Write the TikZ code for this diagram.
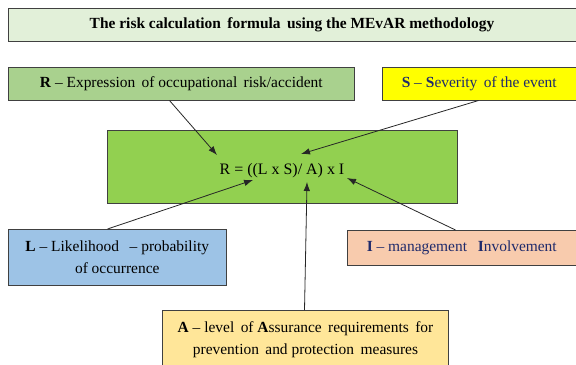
\documentclass[tikz,border=0pt]{standalone}
\usepackage{fontspec}
\setmainfont{Liberation Serif}
\usetikzlibrary{arrows.meta}
\definecolor{titlefill}{HTML}{E2F0D9}
\definecolor{rfill}{HTML}{A9D18E}
\definecolor{sfill}{HTML}{FFFF00}
\definecolor{cfill}{HTML}{92D050}
\definecolor{lfill}{HTML}{9DC3E6}
\definecolor{ifill}{HTML}{F8CBAD}
\definecolor{afill}{HTML}{FFE699}
\definecolor{navy}{HTML}{1F2A6B}
\definecolor{edge}{HTML}{404040}
\tikzset{
  box/.style={draw=edge, line width=1bp, anchor=north west, inner sep=0pt, align=center,
    font=\fontsize{15.5}{22}\selectfont},
  arr/.style={draw=black!85, line width=0.8bp, -{Latex[length=9bp,width=6.5bp]}}
}
\begin{document}
\begin{tikzpicture}[x=1bp,y=-1bp]
\useasboundingbox (0,0) rectangle (576,364);
\node[box, fill=titlefill, minimum width=568bp, minimum height=33bp, font=\bfseries\fontsize{15.5}{18}\selectfont] (title) at (7.5,7.5)
  {The risk calculation\, formula\, using the MEvAR methodology};
\node[box, fill=rfill, minimum width=346.5bp, minimum height=32.5bp] (R) at (7.5,67)
  {\textbf{R} – Expression\, of occupational\, risk/accident};
\node[box, fill=sfill, minimum width=193.5bp, minimum height=32.5bp, text=navy] (S) at (382,67)
  {\textbf{S} – \textbf{S}everity\, of the event};
\node[box, fill=cfill, minimum width=350bp, minimum height=73bp] (C) at (107,130) {};
\node[font=\fontsize{16}{18}\selectfont] (f) at (282,171) {R = ((L x S)/ A) x I};
\node[box, fill=lfill, minimum width=218.5bp, minimum height=56bp] (L) at (7.5,229)
  {\textbf{L} – Likelihood\;\, – probability\\ of occurrence};
\node[box, fill=ifill, minimum width=228.5bp, minimum height=35bp, text=navy] (I) at (347,230)
  {\textbf{I} – management\;\, \textbf{I}nvolvement};
\node[box, fill=afill, minimum width=286bp, minimum height=58bp] (A) at (162,310)
  {\textbf{A} – level\, of \textbf{A}ssurance\, requirements\, for\\ prevention\, and protection\, measures};
\coordinate (tR) at (217,155);
\coordinate (tS) at (301,154);
\coordinate (tL) at (253,180);
\coordinate (tA) at (307,182);
\coordinate (tI) at (347,178);
\draw[arr] ([xshift=-11.75bp]R.south) -- (tR);
\draw[arr] ([xshift=-0.75bp]S.south) -- (tS);
\draw[arr] ([xshift=-9.75bp]L.north) -- (tL);
\draw[arr] ([xshift=-1bp]A.north) -- (tA);
\draw[arr] ([xshift=-6.25bp]I.north) -- (tI);
\end{tikzpicture}
\end{document}
